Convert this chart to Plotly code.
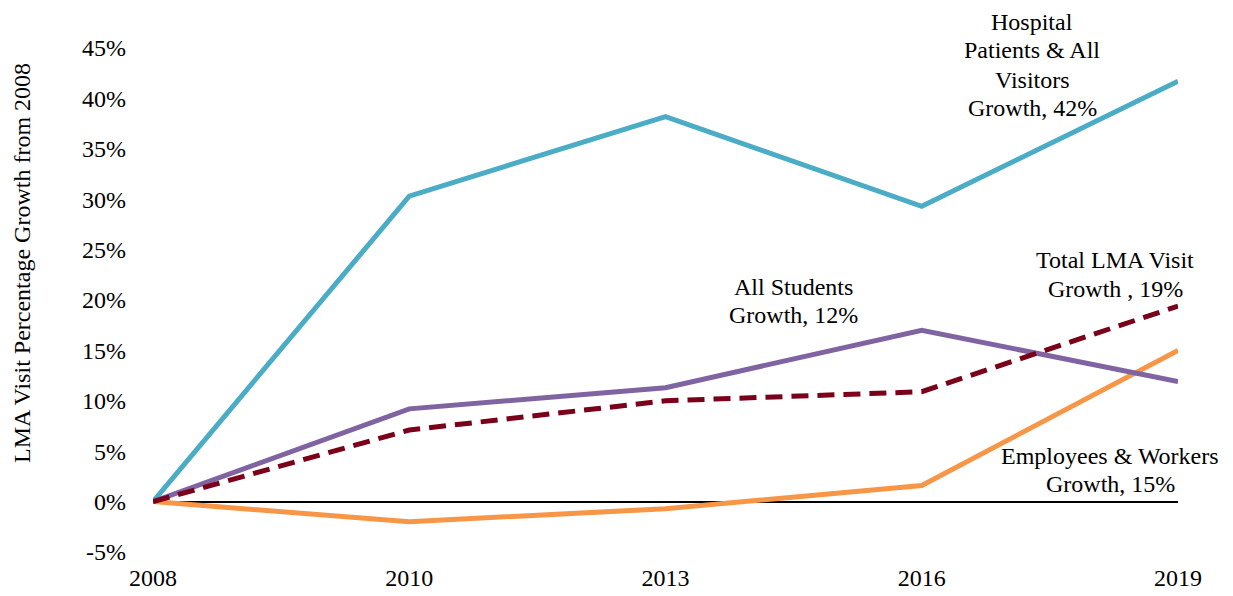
import plotly.graph_objects as go

years = ["2008", "2010", "2013", "2016", "2019"]
hospital = [0, 30.3, 38.2, 29.3, 41.7]
students = [0, 9.2, 11.3, 17.0, 11.9]
total = [0, 7.1, 10.0, 10.9, 19.4]
employees = [0, -2.0, -0.7, 1.6, 15.0]

y_ticks = [-5, 0, 5, 10, 15, 20, 25, 30, 35, 40, 45]
y_tick_labels = [f"{v}%" for v in y_ticks]

# label lines with their (paper) positions
label_lines = [
    ("Hospital", 0.858, 1.051),
    ("Patients & All", 0.858, 0.996),
    ("Visitors", 0.858, 0.937),
    ("Growth, 42%", 0.858, 0.881),
    ("Total LMA Visit", 0.939, 0.579),
    ("Growth , 19%", 0.939, 0.522),
    ("All Students", 0.625, 0.526),
    ("Growth, 12%", 0.625, 0.470),
    ("Employees & Workers", 0.934, 0.190),
    ("Growth, 15%", 0.934, 0.135),
]
y_title = "LMA Visit Percentage Growth from 2008"

FONT = "Liberation Serif"
SIZE = 24

fig = go.Figure()
fig.add_trace(go.Scatter(x=years, y=employees, mode="lines", name="Employees & Workers",
                         line=dict(color="#F79646", width=5)))
fig.add_trace(go.Scatter(x=years, y=hospital, mode="lines", name="Hospital Patients & All Visitors",
                         line=dict(color="#4BACC6", width=5)))
fig.add_trace(go.Scatter(x=years, y=students, mode="lines", name="All Students",
                         line=dict(color="#8064A2", width=5)))
fig.add_trace(go.Scatter(x=years, y=total, mode="lines", name="Total LMA Visit",
                         line=dict(color="#7B0019", width=5, dash="17px,9px")))

for text, x, y in label_lines:
    fig.add_annotation(x=x, y=y, xref="paper", yref="paper", text=text, showarrow=False,
                       xanchor="center", yanchor="middle", align="center",
                       font=dict(family=FONT, size=SIZE, color="#000000"))

fig.add_annotation(x=-0.128, y=0.573, xref="paper", yref="paper", text=y_title,
                   showarrow=False, textangle=-90, xanchor="center", yanchor="middle",
                   font=dict(family=FONT, size=SIZE, color="#000000"))

fig.update_layout(
    width=1233, height=596,
    margin=dict(l=153, r=55, t=48, b=44),
    paper_bgcolor="white", plot_bgcolor="white",
    showlegend=False,
    font=dict(family=FONT, size=SIZE, color="#000000"),
)
fig.update_xaxes(type="category", range=[0, 4], showgrid=False, zeroline=False,
                 showline=False, ticks="", ticklabelstandoff=9, automargin=False,
                 tickfont=dict(family=FONT, size=SIZE))
fig.update_yaxes(range=[-5, 45], tickvals=y_ticks, ticktext=y_tick_labels,
                 showgrid=False, zeroline=True, zerolinecolor="#000000", zerolinewidth=2,
                 showline=False, ticks="", ticklabelstandoff=26, automargin=False,
                 tickfont=dict(family=FONT, size=SIZE))

fig.write_html("out.html")
